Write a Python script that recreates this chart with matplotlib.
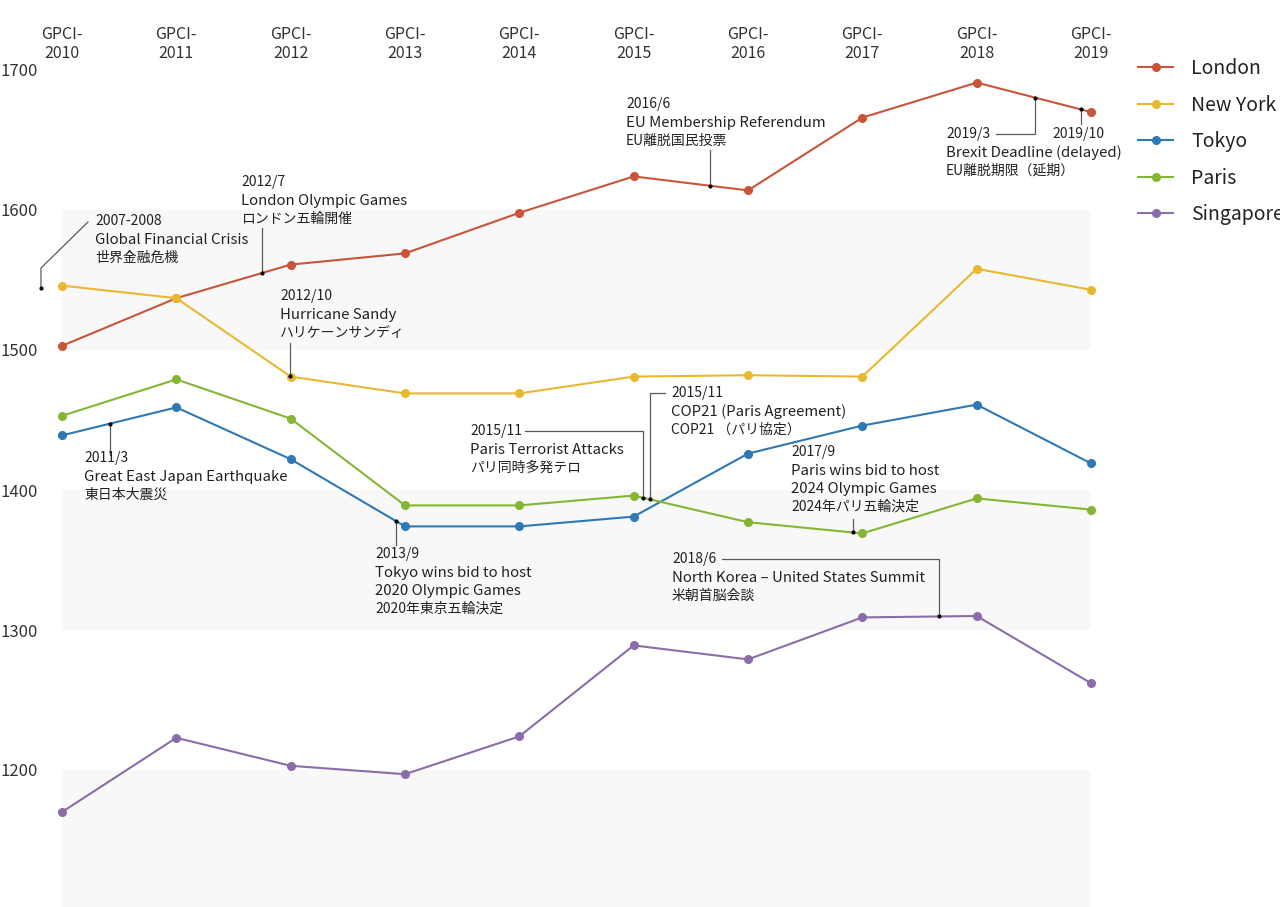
import numpy as np
import matplotlib.pyplot as plt

plt.rcParams['font.family'] = ['Noto Sans CJK JP', 'DejaVu Sans']

# GPCI total scores
years = ['2010', '2011', '2012', '2013', '2014', '2015', '2016', '2017', '2018', '2019']
london = [1503, 1537, 1561, 1569, 1598, 1624, 1614, 1666, 1691, 1670]
new_york = [1546, 1537, 1481, 1469, 1469, 1481, 1482, 1481, 1558, 1543]
tokyo = [1439, 1459, 1422, 1374, 1374, 1381, 1426, 1446, 1461, 1419]
paris = [1453, 1479, 1451, 1389, 1389, 1396, 1377, 1369, 1394, 1386]
singapore = [1170, 1223, 1203, 1197, 1224, 1289, 1279, 1309, 1310, 1262]

cities = ['London', 'New York', 'Tokyo', 'Paris', 'Singapore']
series = [london, new_york, tokyo, paris, singapore]
colors = ['#c8553a', '#e8b830', '#2e78b4', '#85b633', '#8a6da8']

# pixel layout -> data coordinates (x: index of GPCI year, y: score)
XS = 1029 / 9.0
YS = 1.4


def px(x, y):
    return (x - 62) / XS, 1700 - (y - 70) / YS


fig = plt.figure(figsize=(12.8, 9.07), dpi=100)
ax = fig.add_axes([0, 0, 1, 837 / 907])
ax.set_xlim(-62 / XS, (1280 - 62) / XS)
ax.set_ylim(1700 - 837 / YS, 1700)

# light bands
for lo, hi in [(1500, 1600), (1300, 1400), (1100, 1200)]:
    ax.fill_between([0, 9], lo, hi, color='#f8f8f8', lw=0, zorder=0)

x = np.arange(len(years))
for name, vals, c in zip(cities, series, colors):
    ax.plot(x, vals, color=c, lw=1.5, marker='o', ms=5.5, label=name,
            clip_on=False, zorder=3)

# top axis ticks
ax.xaxis.tick_top()
ax.set_xticks(x)
ax.set_xticklabels(['GPCI-\n' + y for y in years], fontsize=11.5, color='#333333',
                   linespacing=1.1)
ax.tick_params(axis='x', length=0, pad=6)
ax.set_yticks([1200, 1300, 1400, 1500, 1600, 1700])
ax.set_yticklabels(['1200', '1300', '1400', '1500', '1600', '1700'],
                   fontsize=12, color='#333333', ha='left')
ax.tick_params(axis='y', length=0, pad=0)
for s in ax.spines.values():
    s.set_visible(False)

# events: (x index, series or None, y for free dot, leader path px, text x px, text y px, lines)
events = [
    (px(41, 0)[0], None, 1544, [(41, 268), (88, 222)], 95, 221,
     ['2007-2008', 'Global Financial Crisis', '世界金融危機']),
    (px(262, 0)[0], london, None, [(262, 228)], 241, 182,
     ['2012/7', 'London Olympic Games', 'ロンドン五輪開催']),
    (px(290, 0)[0], new_york, None, [(290, 343)], 280, 296,
     ['2012/10', 'Hurricane Sandy', 'ハリケーンサンディ']),
    (px(110, 0)[0], tokyo, None, [(110, 455)], 84, 458,
     ['2011/3', 'Great East Japan Earthquake', '東日本大震災']),
    (px(396, 0)[0], tokyo, None, [(396, 545)], 375, 554,
     ['2013/9', 'Tokyo wins bid to host', '2020 Olympic Games', '2020年東京五輪決定']),
    (px(643, 0)[0], paris, None, [(643, 431), (525, 431)], 470, 431,
     ['2015/11', 'Paris Terrorist Attacks', 'パリ同時多発テロ']),
    (px(650, 0)[0], paris, None, [(650, 393), (665, 393)], 671, 393,
     ['2015/11', 'COP21 (Paris Agreement)', 'COP21 （パリ協定）']),
    (px(710, 0)[0], london, None, [(710, 150)], 626, 104,
     ['2016/6', 'EU Membership Referendum', 'EU離脱国民投票']),
    (px(853, 0)[0], paris, None, [(853, 519)], 791, 452,
     ['2017/9', 'Paris wins bid to host', '2024 Olympic Games', '2024年パリ五輪決定']),
    (px(939, 0)[0], singapore, None, [(939, 559), (722, 559)], 672, 559,
     ['2018/6', 'North Korea – United States Summit', '米朝首脳会談']),
    (px(1035, 0)[0], london, None, [(1035, 134), (996, 134)], 946, 134,
     ['2019/3', 'Brexit Deadline (delayed)', 'EU離脱期限（延期）']),
    (px(1081, 0)[0], london, None, [(1081, 124)], None, None, []),
]

for ex, ser, fy, path, tx, ty, lines in events:
    ey = np.interp(ex, x, ser) if ser is not None else fy
    pts = [(ex, ey)] + [px(a, b) for a, b in path]
    ax.plot([p[0] for p in pts], [p[1] for p in pts], color='#5a5a5a', lw=0.9,
            zorder=4, clip_on=False)
    ax.plot(ex, ey, 'o', color='black', ms=2, zorder=5, clip_on=False)
    yy = ty
    for i, t in enumerate(lines):
        if i == 0 or i == len(lines) - 1:
            fs = 10
        else:
            fs = 10.8
        ax.text(*px(tx, yy), t, fontsize=fs, color='#222222', ha='left',
                va='center', zorder=6)
        yy += 19 if i == 0 else 18

ax.text(*px(1104, 134), '2019/10', fontsize=10, color='#222222', ha='right',
        va='center', zorder=6)

leg = ax.legend(loc='upper left', bbox_to_anchor=(1138 / 1280, 1 - 58 / 907),
                bbox_transform=fig.transFigure, frameon=False, fontsize=14,
                handlelength=1.8, handletextpad=0.95, labelspacing=0.8,
                borderpad=0, borderaxespad=0)
for t in leg.get_texts():
    t.set_color('#222222')

fig.savefig('out.png', dpi=100)
